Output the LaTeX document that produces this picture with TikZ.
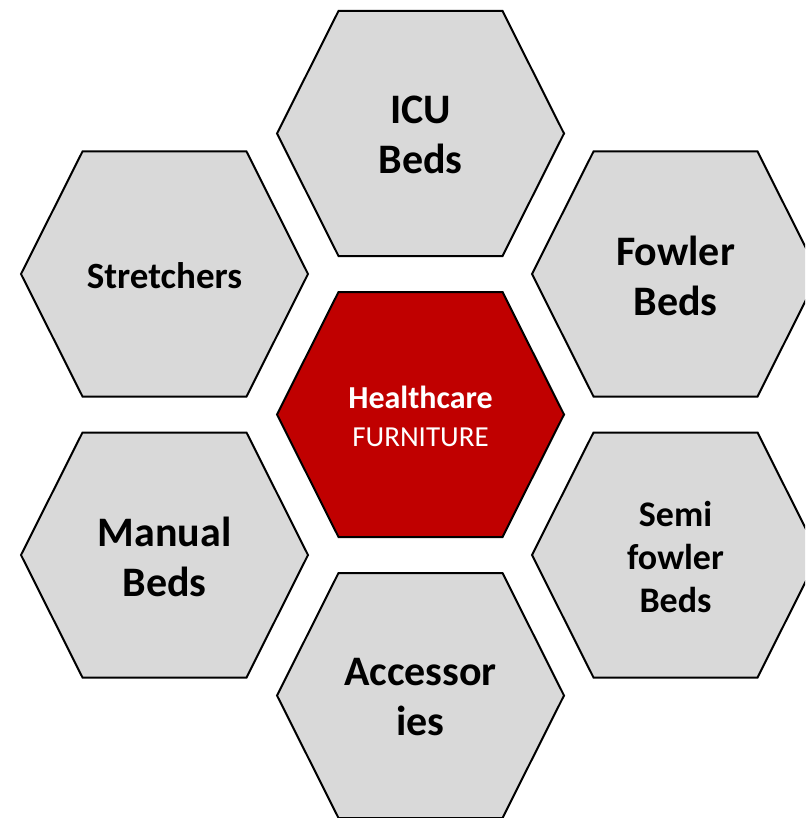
\documentclass[tikz,border=0pt]{standalone}
\usepackage{fontspec}
\setmainfont{Carlito}
\definecolor{hexgray}{HTML}{D9D9D9}
\definecolor{hexred}{HTML}{C00000}
\tikzset{
  hexline/.style={draw=black, line width=2pt, line join=miter},
  bigtxt/.style={align=center, font=\fontsize{42}{50}\selectfont\bfseries, text=black},
  midtxt/.style={align=center, font=\fontsize{37}{43}\selectfont\bfseries, text=black},
  smalltxt/.style={align=center, font=\fontsize{36}{43}\selectfont\bfseries, text=black},
  redtxt/.style={align=center, font=\fontsize{29}{38}\selectfont, text=white},
}
\newcommand\hexshape[3]{%
  \draw[hexline, fill=#3, shift={(#1,#2)}]
    (-143.5,0) -- (-82,-122.5) -- (82,-122.5) -- (143.5,0) -- (82,122.5) -- (-82,122.5) -- cycle;}
\begin{document}
\begin{tikzpicture}[x=1pt,y=-1pt]
\useasboundingbox (0,0) rectangle (805,818);
\fill[white] (0,0) rectangle (805,818);
\clip (0,0) rectangle (805,818);
\hexshape{420.5}{133.5}{hexgray}
\hexshape{164.5}{274}{hexgray}
\hexshape{675.5}{274}{hexgray}
\hexshape{420.5}{414.5}{hexred}
\hexshape{164.5}{555}{hexgray}
\hexshape{675.5}{555}{hexgray}
\hexshape{420.5}{695.5}{hexgray}
\node[bigtxt] (icu) at (420.5,135) {ICU\\Beds};
\node[midtxt] (stretchers) at (164.5,276) {Stretchers};
\node[bigtxt] (fowler) at (675.5,276) {Fowler\\Beds};
\node[redtxt] (center) at (420.5,416) {{\fontsize{32}{38}\selectfont\bfseries Healthcare}\\FURNITURE};
\node[bigtxt] (manual) at (164.5,557) {Manual\\Beds};
\node[smalltxt] (semi) at (675.5,557) {Semi\\fowler\\Beds};
\node[bigtxt] (acc) at (420.5,697) {Accessor\\ies};
\end{tikzpicture}
\end{document}
